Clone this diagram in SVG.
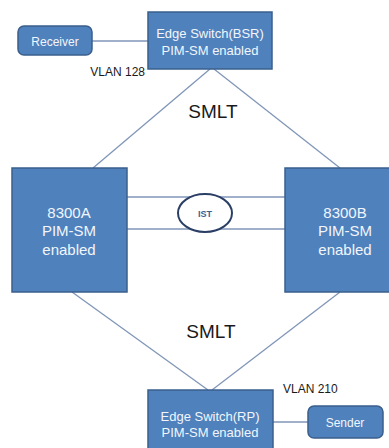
<svg xmlns="http://www.w3.org/2000/svg" width="389" height="448" viewBox="0 0 389 448">
<style>
.box{fill:#4f81bd;stroke:#3a5f8c;stroke-width:1.5}
.t{font-family:"Liberation Sans",Arial,sans-serif;fill:#f2f6fb;text-anchor:middle}
.lbl{font-family:"Liberation Sans",Arial,sans-serif;fill:#1a1a1a}
.ln{stroke:#8096b8;stroke-width:1.3;fill:none}
</style>
<rect width="389" height="448" fill="#ffffff"/>
<g id="connectors">
<line class="ln" x1="92" y1="41" x2="148" y2="41"/>
<line class="ln" x1="210" y1="69" x2="93" y2="168"/>
<line class="ln" x1="214" y1="69" x2="340" y2="168"/>
<line class="ln" x1="127" y1="197" x2="285" y2="197"/>
<line class="ln" x1="127" y1="229" x2="285" y2="229"/>
<line class="ln" x1="72" y1="292" x2="208" y2="390"/>
<line class="ln" x1="340" y1="292" x2="212" y2="390"/>
<line class="ln" x1="273" y1="422" x2="308" y2="422"/>
</g>
<g id="receiver">
<rect class="box" x="18" y="26" width="74" height="29" rx="6"/>
<text class="t" x="55" y="45.5" font-size="12">Receiver</text>
</g>
<g id="edge-bsr">
<rect class="box" x="148" y="12" width="124" height="57"/>
<text class="t" x="210" y="38" font-size="13">Edge Switch(BSR)</text>
<text class="t" x="210" y="55" font-size="13">PIM-SM enabled</text>
</g>
<text class="lbl" x="145" y="76" font-size="12" text-anchor="end">VLAN 128</text>
<text class="lbl" x="213" y="118" font-size="19" text-anchor="middle">SMLT</text>
<g id="n8300A">
<rect class="box" x="12" y="168" width="115" height="124"/>
<text class="t" x="69" y="218" font-size="15">8300A</text>
<text class="t" x="69" y="236" font-size="15">PIM-SM</text>
<text class="t" x="69" y="255" font-size="15">enabled</text>
</g>
<g id="n8300B">
<rect class="box" x="285" y="168" width="118" height="124"/>
<text class="t" x="345" y="218" font-size="15">8300B</text>
<text class="t" x="345" y="236" font-size="15">PIM-SM</text>
<text class="t" x="345" y="255" font-size="15">enabled</text>
</g>
<g id="ist">
<ellipse cx="205" cy="213" rx="27" ry="19" fill="#ffffff" stroke="#2b3f66" stroke-width="2"/>
<text x="205" y="216.5" font-size="9" font-weight="bold" font-family="Liberation Sans,Arial,sans-serif" fill="#3d5d95" text-anchor="middle">IST</text>
</g>
<text class="lbl" x="211" y="338" font-size="19" text-anchor="middle">SMLT</text>
<text class="lbl" x="283" y="393" font-size="12">VLAN 210</text>
<g id="edge-rp">
<rect class="box" x="148" y="390" width="125" height="62"/>
<text class="t" x="210" y="421" font-size="13">Edge Switch(RP)</text>
<text class="t" x="210" y="437" font-size="13">PIM-SM enabled</text>
</g>
<g id="sender">
<rect class="box" x="308" y="406" width="75" height="32" rx="6"/>
<text class="t" x="345" y="426.5" font-size="12">Sender</text>
</g>
</svg>
